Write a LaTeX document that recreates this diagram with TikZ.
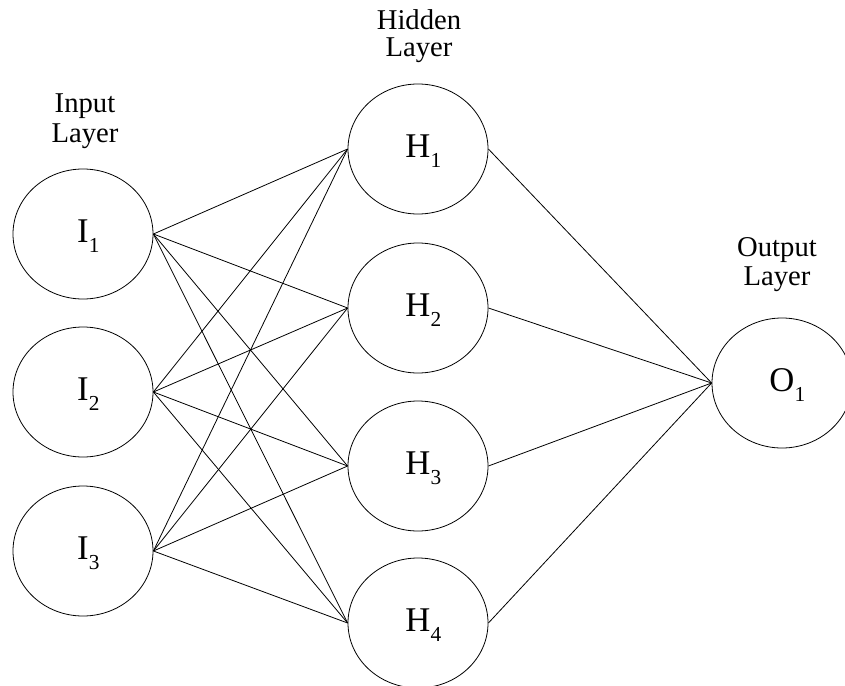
\documentclass[tikz,border=0pt]{standalone}
\usepackage{fontspec}
\setmainfont{Liberation Serif}
\usepackage{tikz}
\usetikzlibrary{shapes.geometric}
\newcommand{\nsub}[1]{\rlap{\smash{\raisebox{-7pt}{\fontsize{16}{16}\selectfont #1}}}}
\tikzstyle{edge}=[
	-,
	draw=black,
	line width=0.6pt
]
\tikzstyle{neuron}=[
	ellipse,
	draw=black,
	line width=0.6pt,
	minimum width=105pt,
	minimum height=97.5pt,
	inner sep=0pt,
	text height=17pt,
	text depth=4pt,
	font=\fontsize{26}{30}\selectfont
]
\tikzstyle{layerlab}=[
	anchor=base,
	inner sep=0pt,
	font=\fontsize{21.5}{22}\selectfont
]
\begin{document}
\begin{tikzpicture}[x=0.75pt, y=-0.75pt]
\useasboundingbox (0,0) rectangle (845,685);

\foreach \i/\y in {1/234, 2/392, 3/551}{
    \node[neuron] at (83, \y) (I\i) {I\nsub{\i}};
}
\foreach \h/\y in {1/149, 2/308, 3/466, 4/623}{
    \node[neuron] at (418, \y) (H\h) {H\nsub{\h}};
}
\node[neuron] at (782, 383) (O1) {O\nsub{1}};

\foreach \i in {1, 2, 3}{
    \foreach \h in {1, 2, 3, 4}{
        \draw[edge] (I\i.east) to (H\h.west);
    }
}
\foreach \h in {1, 2, 3, 4}{
    \draw[edge] (H\h.east) to (O1.west);
}

% layer titles
\node[layerlab] at (85, 113) (inlab) {Input};
\node[layerlab] at (85, 142) (inlab2) {Layer};
\node[layerlab] at (419, 30) (hidlab) {Hidden};
\node[layerlab] at (419, 57) (hidlab2) {Layer};
\node[layerlab] at (777, 256) (outlab) {Output};
\node[layerlab] at (777, 285) (outlab2) {Layer};
\end{tikzpicture}
\end{document}
